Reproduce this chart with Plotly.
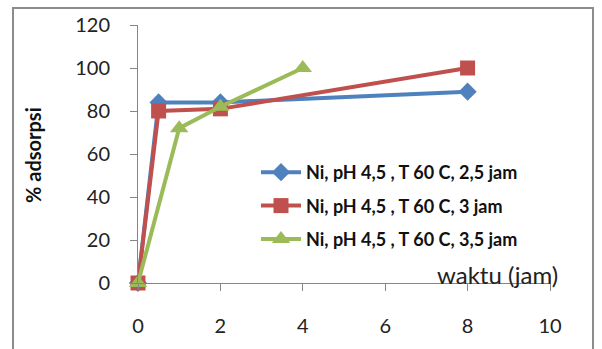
import plotly.graph_objects as go

# Data
blue_x = [0, 0.5, 2, 8]
blue_y = [0, 84, 84, 89]
red_x = [0, 0.5, 2, 8]
red_y = [0, 80, 81, 100]
green_x = [0, 1, 2, 4]
green_y = [0, 72, 82, 100]
names = ["Ni, pH 4,5 , T 60 C, 2,5 jam", "Ni, pH 4,5 , T 60 C, 3 jam", "Ni, pH 4,5 , T 60 C, 3,5 jam"]
x_ticks = [0, 2, 4, 6, 8, 10]
y_ticks = [0, 20, 40, 60, 80, 100, 120]

W, H = 602, 349
L, R, T, B = 138, 52, 25, 66
pw, ph = W - L - R, H - T - B

FONT = "Lato"

fig = go.Figure()
series = [
    (blue_x, blue_y, "#4F81BD", "diamond", 14),
    (red_x, red_y, "#C0504D", "square", 15),
    (green_x, green_y, "#9BBB59", "triangle-up", 16),
]
for i, (xs, ys, c, sym, sz) in enumerate(series):
    fig.add_trace(go.Scatter(
        x=xs, y=ys, name="<b>" + names[i] + "</b>", mode="lines+markers",
        line=dict(color=c, width=4),
        marker=dict(color=c, symbol=sym, size=sz),
        cliponaxis=False, legendgroup=f"g{i}",
    ))

axis_common = dict(showgrid=False, zeroline=False, showline=True, linecolor="#868686",
                   linewidth=1, ticks="outside", ticklen=7, tickcolor="#868686",
                   tickfont=dict(family=FONT, size=20, color="#222222"))
fig.update_xaxes(range=[0, 10], tickvals=x_ticks, ticklabelstandoff=18, **axis_common)
fig.update_yaxes(range=[0, 120], tickvals=y_ticks, ticklabelstandoff=16, **axis_common)

def px_x(p):
    return (p - L) / pw

def px_y(p):
    return (H - B - p) / ph

fig.add_shape(type="rect", xref="paper", yref="paper",
              x0=px_x(13), x1=px_x(593), y0=px_y(355), y1=px_y(8),
              line=dict(color="#8c8c8c", width=2), fillcolor="rgba(0,0,0,0)", layer="below")

fig.add_annotation(text="<b>% adsorpsi</b>", xref="paper", yref="paper",
                   x=px_x(33), y=px_y(155), textangle=-90, showarrow=False,
                   xanchor="center", yanchor="middle",
                   font=dict(family=FONT, size=20, color="#111111"))
fig.add_annotation(text="waktu (jam)", xref="paper", yref="paper",
                   x=px_x(497), y=px_y(274), showarrow=False,
                   xanchor="center", yanchor="middle",
                   font=dict(family=FONT, size=24, color="#222222"))

fig.update_layout(
    width=W, height=H, margin=dict(l=L, r=R, t=T, b=B),
    paper_bgcolor="white", plot_bgcolor="white",
    showlegend=True,
    legend=dict(x=px_x(256), y=px_y(154), xanchor="left", yanchor="top",
                bgcolor="rgba(255,255,255,0)", tracegroupgap=7,
                font=dict(family=FONT, size=18, color="#111111"), itemwidth=40),
)
fig.write_html("out.html")
